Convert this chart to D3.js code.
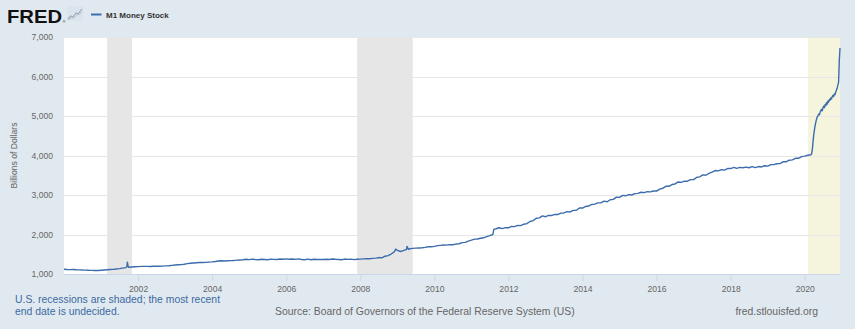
<!DOCTYPE html>
<html>
<head>
<meta charset="utf-8">
<script src="https://cdn.jsdelivr.net/npm/d3@7"></script>
<style>
  html, body { margin: 0; padding: 0; background: #e1e9f0; }
  svg { display: block; font-family: "Liberation Sans", Arial, sans-serif; }
</style>
</head>
<body>
<svg id="chart" width="855" height="329"></svg>
<script>
// ---------------- DATA ----------------
const seriesName = "M1 Money Stock";
const yAxisTitle = "Billions of Dollars";
const yTicks = [1000, 2000, 3000, 4000, 5000, 6000, 7000];
const xTickYears = [2002, 2004, 2006, 2008, 2010, 2012, 2014, 2016, 2018, 2020];

// Monthly readings (1st of month), Jan 2000 .. Mar 2020
const monthlyStart = "2000-01-01";
const monthlyM1 = [
  1122,1114,1110,1113,1106,1104,1100,1098,1094,1092,1088,1088, // 2000
  1096,1101,1107,1115,1118,1127,1136,1148,1160,1172,1178,1182, // 2001
  1186,1192,1194,1194,1190,1196,1200,1196,1200,1206,1210,1218, // 2002
  1228,1234,1238,1248,1262,1272,1280,1286,1290,1290,1294,1300, // 2003
  1306,1316,1330,1336,1330,1336,1338,1340,1352,1356,1360,1374, // 2004
  1364,1378,1366,1360,1374,1368,1362,1376,1370,1366,1380,1372, // 2005
  1384,1372,1378,1370,1384,1368,1362,1376,1360,1372,1366,1370, // 2006
  1366,1374,1368,1380,1372,1366,1360,1378,1370,1376,1364,1372, // 2007
  1376,1384,1390,1386,1396,1402,1416,1408,1450,1466,1506,1560, // 2008
  1600,1570,1590,1625,1640,1650,1655,1660,1665,1675,1690,1690, // 2009
  1700,1718,1726,1734,1730,1744,1740,1758,1766,1794,1800,1832, // 2010
  1856,1884,1886,1906,1916,1946,1970,2000,2145,2170,2150,2175, // 2011
  2170,2205,2200,2230,2225,2260,2275,2330,2350,2410,2420,2470, // 2012
  2450,2485,2480,2510,2505,2540,2545,2580,2570,2610,2615,2670, // 2013
  2670,2710,2720,2760,2770,2800,2800,2845,2830,2880,2890,2945, // 2014
  2940,2990,2980,3010,3000,3035,3040,3070,3060,3085,3080,3100, // 2015
  3100,3150,3170,3220,3220,3265,3280,3330,3320,3350,3350,3390, // 2016
  3390,3450,3460,3510,3500,3545,3580,3620,3610,3640,3630,3670, // 2017
  3670,3700,3675,3700,3690,3705,3690,3720,3695,3720,3710,3740, // 2018
  3730,3770,3770,3790,3795,3840,3840,3880,3890,3930,3930,3970, // 2019
  3985,4005,4020                                               // 2020 Jan-Mar
];

// Extra weekly readings where short spikes/jumps are visible
const extraDates = ["2001-09-12","2001-09-17","2001-09-24","2008-12-15","2009-04-06","2009-04-20","2011-08-10"];
const extraM1    = [1185, 1300, 1195, 1630, 1700, 1620, 2130];

// Weekly readings for 2020
const weeklyDates = [
  "2020-03-09","2020-03-16","2020-03-23","2020-03-30","2020-04-06","2020-04-13","2020-04-20","2020-04-27",
  "2020-05-04","2020-05-11","2020-05-18","2020-05-25","2020-06-01","2020-06-08","2020-06-15","2020-06-22",
  "2020-06-29","2020-07-06","2020-07-13","2020-07-20","2020-07-27","2020-08-03","2020-08-10","2020-08-17",
  "2020-08-24","2020-08-31","2020-09-07","2020-09-14","2020-09-21","2020-09-28","2020-10-05","2020-10-12",
  "2020-10-19","2020-10-26","2020-11-02","2020-11-09","2020-11-16","2020-11-23","2020-11-30","2020-12-07",
  "2020-12-14"
];
const weeklyM1 = [
  4040,4150,4350,4520,4650,4760,4850,4920,
  4980,5010,5050,5030,5100,5140,5170,5130,
  5210,5250,5210,5290,5260,5340,5300,5380,
  5350,5420,5400,5460,5430,5490,5520,5490,
  5560,5540,5610,5650,5700,5780,5850,6400,
  6720
];

// Recessions (NBER); last one has undecided end
const recessionStarts = ["2001-03-01","2007-12-01","2020-02-01"];
const recessionEnds   = ["2001-11-01","2009-06-01",null];

const sourceText = "Source: Board of Governors of the Federal Reserve System (US)";
const noteLines = ["U.S. recessions are shaded; the most recent", "end date is undecided."];
const siteText = "fred.stlouisfed.org";

// ---------------- BUILD SERIES ----------------
const parse = d3.utcParse("%Y-%m-%d");
const start = parse(monthlyStart);
let pts = monthlyM1.map((v, i) => ({ date: d3.utcMonth.offset(start, i), value: v }));
extraDates.forEach((d, i) => pts.push({ date: parse(d), value: extraM1[i] }));
weeklyDates.forEach((d, i) => pts.push({ date: parse(d), value: weeklyM1[i] }));
pts.sort((a, b) => a.date - b.date);

// ---------------- LAYOUT ----------------
const plot = { left: 64, right: 840, top: 37, bottom: 274 };
const svg = d3.select("#chart");

const x = d3.scaleUtc()
  .domain([pts[0].date, pts[pts.length - 1].date])
  .range([plot.left, plot.right]);
const y = d3.scaleLinear()
  .domain([1000, 7000])
  .range([plot.bottom, plot.top]);

// Plot background
svg.append("rect")
  .attr("x", plot.left).attr("y", plot.top)
  .attr("width", plot.right - plot.left).attr("height", plot.bottom - plot.top)
  .attr("fill", "#ffffff");

// Recession shading
recessionStarts.forEach((s, i) => {
  const x0 = x(parse(s));
  const x1 = recessionEnds[i] ? x(parse(recessionEnds[i])) : plot.right;
  svg.append("rect")
    .attr("x", x0).attr("y", plot.top)
    .attr("width", x1 - x0).attr("height", plot.bottom - plot.top)
    .attr("fill", recessionEnds[i] ? "#e6e6e6" : "#f5f4dc");
});

// Gridlines
svg.append("g")
  .selectAll("line")
  .data(yTicks.filter(t => t > 1000))
  .join("line")
  .attr("x1", plot.left).attr("x2", plot.right)
  .attr("y1", d => Math.round(y(d)) + 0.5).attr("y2", d => Math.round(y(d)) + 0.5)
  .attr("stroke", "#e6e6e6").attr("stroke-width", 1);

// Y axis labels
const yAxis = d3.axisLeft(y)
  .tickValues(yTicks)
  .tickFormat(d3.format(","))
  .tickSize(0)
  .tickPadding(11);
const gy = svg.append("g").attr("transform", `translate(${plot.left},0)`).call(yAxis);
gy.select(".domain").remove();
gy.selectAll("text")
  .attr("fill", "#666666")
  .style("font-size", "8.6px")
  .style("font-family", "'Liberation Sans', Arial, sans-serif");

// X axis
const xAxis = d3.axisBottom(x)
  .tickValues(xTickYears.map(yv => new Date(Date.UTC(yv, 0, 1))))
  .tickFormat(d3.utcFormat("%Y"))
  .tickSize(7)
  .tickPadding(5);
const gx = svg.append("g").attr("transform", `translate(0,${plot.bottom})`).call(xAxis);
gx.select(".domain").attr("stroke", "#ccd6eb").attr("d", `M${plot.left},0.5H${plot.right}`);
gx.selectAll(".tick line").attr("stroke", "#ccd6eb");
gx.selectAll("text")
  .attr("fill", "#666666")
  .style("font-size", "8.6px")
  .style("font-family", "'Liberation Sans', Arial, sans-serif");

// Y axis title
svg.append("text")
  .attr("transform", `translate(17,${(plot.top + plot.bottom) / 2}) rotate(-90)`)
  .attr("text-anchor", "middle")
  .attr("fill", "#666666")
  .style("font-size", "8.6px")
  .text(yAxisTitle);

// Series line
const line = d3.line()
  .x(d => x(d.date))
  .y(d => y(d.value))
  .curve(d3.curveLinear);
svg.append("path")
  .datum(pts)
  .attr("d", line)
  .attr("fill", "none")
  .attr("stroke", "#3d6cac")
  .attr("stroke-width", 1.4)
  .attr("stroke-linejoin", "round");

// ---------------- HEADER ----------------
svg.append("text")
  .attr("x", 7).attr("y", 22.5)
  .attr("fill", "#111111")
  .style("font-size", "19px")
  .style("font-weight", "900")
  .attr("textLength", 55)
  .attr("lengthAdjust", "spacingAndGlyphs")
  .text("FRED");
svg.append("text")
  .attr("x", 62.5).attr("y", 22.5)
  .attr("fill", "#111111")
  .style("font-size", "4px")
  .text("®");
// small chart icon
const icon = svg.append("g").attr("transform", "translate(67,6)");
icon.append("rect").attr("width", 16).attr("height", 15).attr("fill", "#dbe4ec");
icon.append("path")
  .attr("d", "M1,13 L4,10 L6,11 L9,7 L11,8 L15,3")
  .attr("fill", "none").attr("stroke", "#9aaabb").attr("stroke-width", 1.2);
icon.append("path")
  .attr("d", "M1,14 L4,12 L7,12 L10,9 L13,8 L15,6")
  .attr("fill", "none").attr("stroke", "#b8c4d0").attr("stroke-width", 1);

// Legend
svg.append("line")
  .attr("x1", 91).attr("x2", 101.5)
  .attr("y1", 14.5).attr("y2", 14.5)
  .attr("stroke", "#3d6cac").attr("stroke-width", 2);
svg.append("text")
  .attr("x", 106).attr("y", 17.5)
  .attr("fill", "#333333")
  .style("font-size", "8px")
  .style("font-weight", "bold")
  .text(seriesName);

// ---------------- FOOTER ----------------
svg.append("g").selectAll("text")
  .data(noteLines)
  .join("text")
  .attr("x", 15)
  .attr("y", (d, i) => 302.5 + i * 12)
  .attr("fill", "#3b6aa0")
  .style("font-size", "10.4px")
  .text(d => d);

svg.append("text")
  .attr("x", 275).attr("y", 314.5)
  .attr("fill", "#666666")
  .style("font-size", "10.4px")
  .text(sourceText);

svg.append("text")
  .attr("x", 818).attr("y", 314.5)
  .attr("text-anchor", "end")
  .attr("fill", "#666666")
  .style("font-size", "10.4px")
  .text(siteText);
</script>
</body>
</html>
